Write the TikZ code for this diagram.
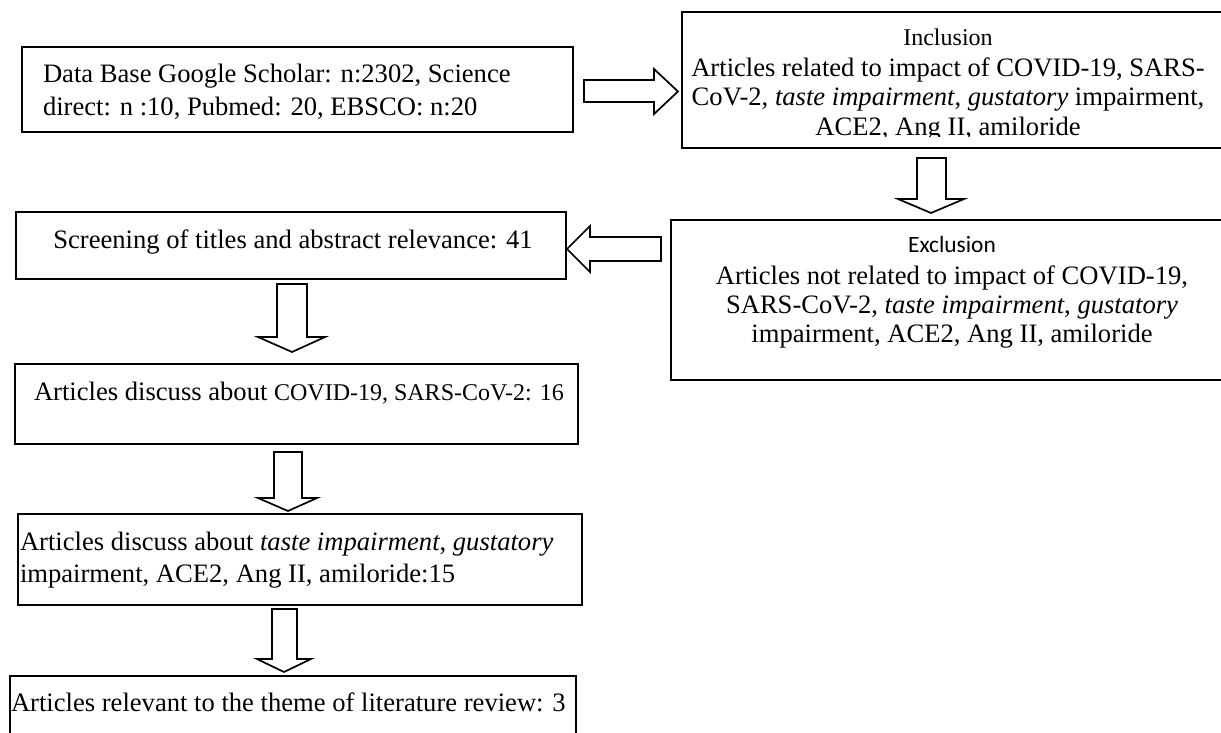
\documentclass[tikz,border=0pt]{standalone}
\usepackage{fontspec}
\setmainfont{Liberation Serif}
\newfontfamily\calibrifont{Carlito}
\usetikzlibrary{fit}
\begin{document}
\begin{tikzpicture}[x=0.5pt,y=-0.5pt,
  box/.style={draw, line width=1pt, inner sep=0pt, outer sep=0pt},
  barrow/.style={draw, line width=0.85pt, line join=miter},
  txt/.style={inner sep=0pt, outer sep=0pt, font=\fontsize{13.3}{14.5}\selectfont}]
\useasboundingbox (0,0) rectangle (1221,733);
\clip (0,0) rectangle (1221,733);
% box corners
\path (22,47) coordinate (b1nw) (573,132) coordinate (b1se)
      (682,12) coordinate (incnw) (1240,148) coordinate (incse)
      (671,220) coordinate (excnw) (1240,380) coordinate (excse)
      (16,212) coordinate (scrnw) (566,279) coordinate (scrse)
      (15,364) coordinate (covnw) (578,444) coordinate (covse)
      (18,514) coordinate (tasnw) (582,605) coordinate (tasse)
      (10,676) coordinate (lasnw) (576,760) coordinate (lasse);
\node[box, fit=(b1nw)(b1se)] (b1) {};
\node[box, fit=(incnw)(incse)] (inc) {};
\node[box, fit=(excnw)(excse)] (exc) {};
\node[box, fit=(scrnw)(scrse)] (scr) {};
\node[box, fit=(covnw)(covse)] (cov) {};
\node[box, fit=(tasnw)(tasse)] (tas) {};
\node[box, fit=(lasnw)(lasse)] (las) {};
% texts (base anchor = baseline of last line)
\node[txt, anchor=base west, align=left, font=\fontsize{13.3}{16.5}\selectfont] (b1t) at (43,116)
  {Data Base Google Scholar: n:2302, Science\\direct: n :10, Pubmed: 20, EBSCO: n:20};
\begin{scope}
\clip (682,12) rectangle (1221,137);
\node[txt, anchor=base, align=center] (inct) at (948,135)
  {{\fontsize{12}{14}\selectfont Inclusion}\\[1pt]
   Articles related to impact of COVID-19, SARS-\\
   CoV-2, \textit{taste impairment}, \textit{gustatory} impairment,\\
   ACE2, Ang II, amiloride};
\end{scope}
\node[txt, anchor=base, align=center] (exct) at (952,342)
  {{\calibrifont\fontsize{11.7}{14}\selectfont Exclusion}\\[1.5pt]
   Articles not related to impact of COVID-19,\\
   SARS-CoV-2, \textit{taste impairment}, \textit{gustatory}\\
   impairment, ACE2, Ang II, amiloride};
\node[txt, anchor=base] (scrt) at (293,248) {Screening of titles and abstract relevance: 41};
\node[txt, anchor=base west] (covt) at (34,400)
  {Articles discuss about {\fontsize{12}{14}\selectfont COVID-19, SARS-CoV-2: 16}};
\node[txt, anchor=base west, align=left, font=\fontsize{13.3}{16}\selectfont] (tast) at (20,582)
  {Articles discuss about \textit{taste impairment}, \textit{gustatory}\\impairment, ACE2, Ang II, amiloride:15};
\node[txt, anchor=base west] (last) at (11,711) {Articles relevant to the theme of literature review: 3};
% block arrows
\draw[barrow] (584,80) -- (654,80) -- (654,69) -- (678,91.5) -- (654,114) -- (654,102) -- (584,102) -- cycle;
\draw[barrow] (661,237) -- (590,237) -- (590,226) -- (567,249) -- (590,272) -- (590,261) -- (661,261) -- cycle;
\draw[barrow] (917,158) -- (917,199) -- (898,199) -- (931,213) -- (964,199) -- (946,199) -- (946,158) -- cycle;
\draw[barrow] (277,284) -- (277,337) -- (258,337) -- (292,352) -- (325,337) -- (307,337) -- (307,284) -- cycle;
\draw[barrow] (274,452) -- (274,498) -- (258,498) -- (288,511) -- (317,498) -- (302,498) -- (302,452) -- cycle;
\draw[barrow] (272,609) -- (272,659) -- (257,659) -- (284,672) -- (311,659) -- (297,659) -- (297,609) -- cycle;
\end{tikzpicture}
\end{document}
